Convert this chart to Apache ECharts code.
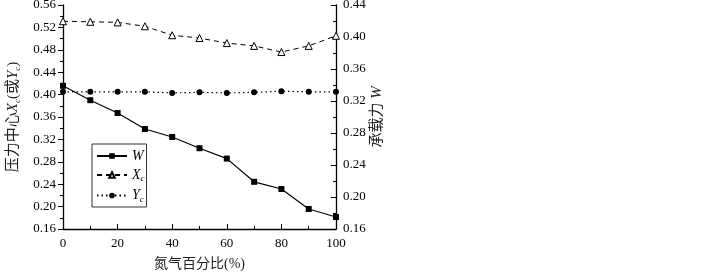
<!DOCTYPE html>
<html>
<head>
<meta charset="utf-8">
<script src="https://cdn.jsdelivr.net/npm/echarts@6/dist/echarts.min.js"></script>
<style>
  html, body { margin: 0; padding: 0; background: #fff; }
  #chart { width: 722px; height: 272px; }
</style>
</head>
<body>
<div id="chart"></div>
<script>
// nitrogen percentage (x axis)
const nitrogen = [0, 10, 20, 30, 40, 50, 60, 70, 80, 90, 100];
// load capacity W (right axis)
const wValues = [0.339, 0.321, 0.305, 0.285, 0.275, 0.261, 0.248, 0.219, 0.210, 0.185, 0.175];
// pressure centre Xc (left axis)
const xcValues = [0.531, 0.530, 0.529, 0.522, 0.506, 0.501, 0.492, 0.487, 0.476, 0.487, 0.505];
// pressure centre Yc (left axis)
const ycValues = [0.405, 0.405, 0.405, 0.405, 0.403, 0.404, 0.403, 0.404, 0.406, 0.405, 0.405];

const serif = '"Liberation Serif", "Noto Sans CJK SC", serif';
const black = '#000';

const chart = echarts.init(document.getElementById('chart'));

const pair = (xs, ys) => xs.map((x, i) => [x, ys[i]]);

const legendRich = {
  i: { fontFamily: serif, fontStyle: 'italic', fontSize: 14, color: black },
  s: { fontFamily: serif, fontStyle: 'italic', fontSize: 9, color: black, padding: [8, 0, 0, 0] }
};

chart.setOption({
  animation: false,
  backgroundColor: '#fff',
  grid: { left: 63, right: 386, top: 5, bottom: 43, outerBoundsMode: 'none' },
  legend: {
    left: 92,
    top: 144,
    orient: 'vertical',
    itemWidth: 30,
    itemHeight: 7,
    itemGap: 5,
    padding: [5, 2, 3, 4],
    borderColor: '#333',
    borderWidth: 1,
    data: ['W', 'Xc', 'Yc'],
    formatter: name => name === 'W' ? '{i|W}' : '{i|' + name[0] + '}{s|c}',
    textStyle: { rich: legendRich }
  },
  xAxis: {
    type: 'value',
    min: 0,
    max: 100,
    interval: 20,
    name: '氮气百分比(%)',
    nameLocation: 'middle',
    nameGap: 28,
    nameTextStyle: { fontFamily: serif, fontSize: 14, color: '#222' },
    axisLine: { lineStyle: { color: black, width: 1.3 } },
    axisTick: { inside: true, length: 5, lineStyle: { color: black } },
    minorTick: { show: true, splitNumber: 2, length: 3, lineStyle: { color: black } },
    axisLabel: { fontFamily: serif, fontSize: 13, color: black, margin: 8 },
    splitLine: { show: false }
  },
  yAxis: [
    {
      type: 'value',
      min: 0.16,
      max: 0.56,
      interval: 0.04,
      name: '压力中心{i|X}{s|c}(或{i|Y}{s|c})',
      nameLocation: 'middle',
      nameRotate: 90,
      nameGap: 41,
      nameTextStyle: {
        fontFamily: serif, fontSize: 15, color: '#222',
        rich: {
          i: { fontFamily: serif, fontStyle: 'italic', fontSize: 15, color: '#222' },
          s: { fontFamily: serif, fontStyle: 'italic', fontSize: 9, color: '#222', padding: [8, 0, 0, 0] }
        }
      },
      axisLine: { show: true, lineStyle: { color: black, width: 1.3 } },
      axisTick: { inside: false, length: 5, lineStyle: { color: black } },
      minorTick: { show: true, splitNumber: 2, length: 3, lineStyle: { color: black } },
      axisLabel: { fontFamily: serif, fontSize: 13, color: black, margin: 7, formatter: v => v.toFixed(2) },
      splitLine: { show: false }
    },
    {
      type: 'value',
      position: 'right',
      min: 0.16,
      max: 0.44,
      interval: 0.04,
      name: '承载力 {i|W}',
      nameLocation: 'middle',
      nameRotate: 90,
      nameGap: 34,
      nameTextStyle: {
        fontFamily: serif, fontSize: 15, color: '#222',
        rich: { i: { fontFamily: serif, fontStyle: 'italic', fontSize: 15, color: '#222' } }
      },
      axisLine: { show: true, lineStyle: { color: black, width: 1.3 } },
      axisTick: { inside: true, length: 5, lineStyle: { color: black } },
      minorTick: { show: true, splitNumber: 2, length: 3, lineStyle: { color: black } },
      axisLabel: { fontFamily: serif, fontSize: 13, color: black, margin: 7, formatter: v => v.toFixed(2) },
      splitLine: { show: false }
    }
  ],
  series: [
    {
      name: 'W',
      type: 'line',
      yAxisIndex: 1,
      data: pair(nitrogen, wValues),
      symbol: 'rect',
      symbolSize: 6,
      itemStyle: { color: black },
      lineStyle: { color: black, width: 1.2, type: 'solid' }
    },
    {
      name: 'Xc',
      type: 'line',
      yAxisIndex: 0,
      data: pair(nitrogen, xcValues),
      symbol: 'triangle',
      symbolSize: 7,
      itemStyle: { color: '#fff', borderColor: black, borderWidth: 1 },
      lineStyle: { color: black, width: 1, type: [5, 4] }
    },
    {
      name: 'Yc',
      type: 'line',
      yAxisIndex: 0,
      data: pair(nitrogen, ycValues),
      symbol: 'circle',
      symbolSize: 6,
      itemStyle: { color: black },
      lineStyle: { color: black, width: 1.2, type: [1.5, 3] }
    }
  ]
});

window.addEventListener('resize', () => chart.resize());
</script>
</body>
</html>
